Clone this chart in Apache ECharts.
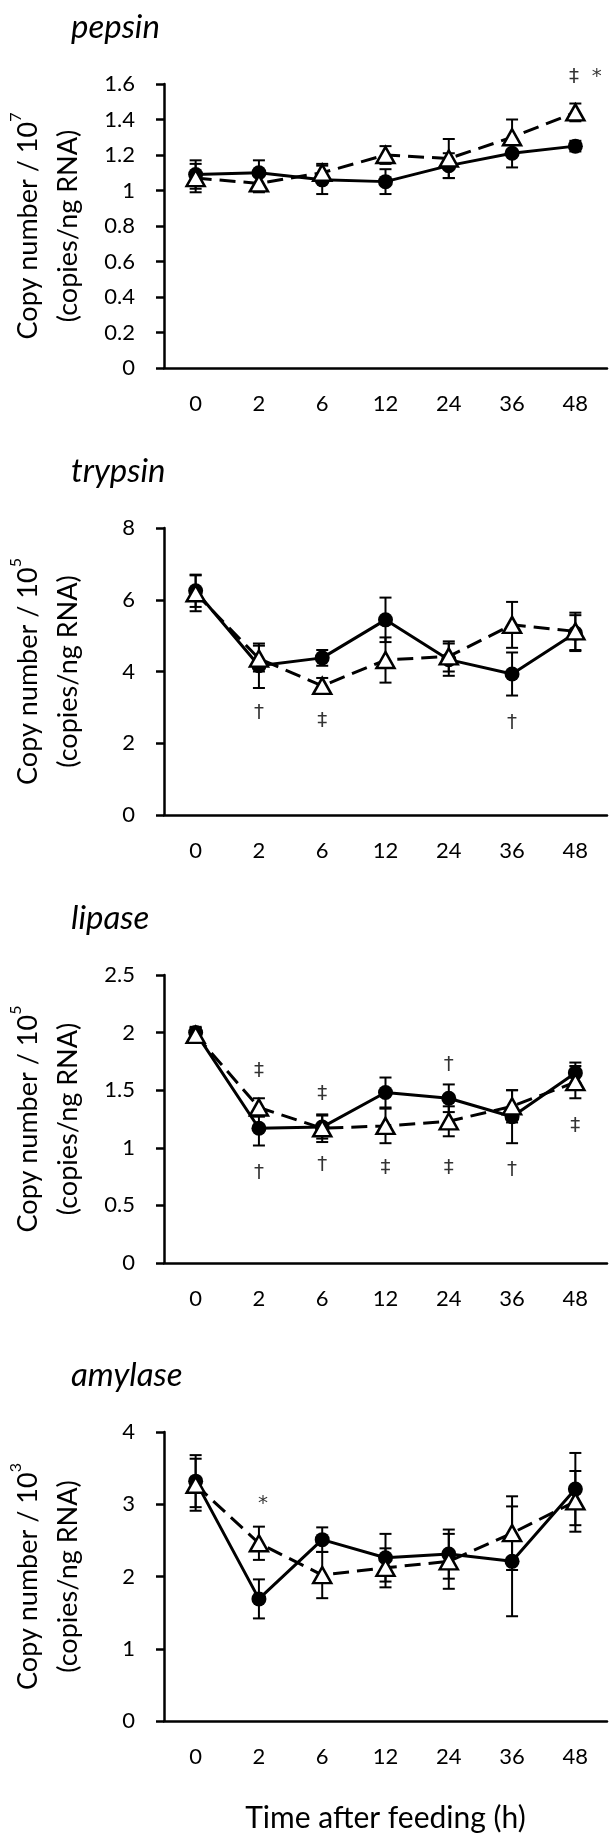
<!DOCTYPE html>
<html>
<head>
<meta charset="utf-8">
<script src="https://cdn.jsdelivr.net/npm/echarts@6/dist/echarts.min.js"></script>
<style>
  html, body { margin: 0; padding: 0; background: #fff; }
  #chart { width: 615px; height: 1841px; }
</style>
</head>
<body>
<div id="chart"></div>
<script>
// Sampling times (h after feeding)
const hours = ['0', '2', '6', '12', '24', '36', '48'];

// Mean copy number (filled circles, solid line) and SE
const pepsinA = [1.09, 1.10, 1.06, 1.05, 1.14, 1.21, 1.25];
const pepsinAErr = [0.08, 0.07, 0.08, 0.07, 0.07, 0.08, 0.03];
// Mean copy number (open triangles, dashed line) and SE
const pepsinB = [1.07, 1.04, 1.10, 1.20, 1.18, 1.30, 1.44];
const pepsinBErr = [0.08, 0.05, 0.05, 0.05, 0.11, 0.10, 0.05];

const trypsinA = [6.25, 4.16, 4.38, 5.44, 4.33, 3.93, 5.07];
const trypsinAErr = [0.45, 0.62, 0.22, 0.62, 0.45, 0.60, 0.50];
const trypsinB = [6.18, 4.36, 3.60, 4.32, 4.42, 5.30, 5.12];
const trypsinBErr = [0.50, 0.36, 0.22, 0.63, 0.42, 0.64, 0.52];

const lipaseA = [2.00, 1.17, 1.18, 1.48, 1.43, 1.27, 1.65];
const lipaseAErr = [0.05, 0.15, 0.10, 0.13, 0.12, 0.23, 0.09];
const lipaseB = [1.98, 1.35, 1.17, 1.19, 1.23, 1.36, 1.57];
const lipaseBErr = [0.06, 0.08, 0.12, 0.15, 0.13, 0.14, 0.14];

const amylaseA = [3.32, 1.69, 2.51, 2.26, 2.31, 2.21, 3.21];
const amylaseAErr = [0.36, 0.27, 0.17, 0.33, 0.34, 0.76, 0.50];
const amylaseB = [3.27, 2.46, 2.02, 2.12, 2.21, 2.60, 3.04];
const amylaseBErr = [0.36, 0.23, 0.32, 0.27, 0.38, 0.51, 0.42];

// Significance marks: [time index, y value, symbol]
const pepsinMarks = [[6, 1.64, '‡  *']];
const trypsinMarks = [[1, 2.85, '†'], [2, 2.62, '‡'], [5, 2.58, '†']];
const lipaseMarks = [
  [1, 1.67, '‡'], [2, 1.47, '‡'], [4, 1.72, '†'],
  [1, 0.78, '†'], [2, 0.85, '†'], [3, 0.83, '‡'], [4, 0.83, '‡'], [5, 0.81, '†'],
  [6, 1.19, '‡']
];
const amylaseMarks = [[1, 3.0, '*']];

// Panel titles, axis scales and y-axis exponents
const panelNames = ['pepsin', 'trypsin', 'lipase', 'amylase'];
const yMax = [1.6, 8, 2.5, 4];
const yStep = [0.2, 2, 0.5, 1];
const exponents = ['7', '5', '5', '3'];
const xTitle = 'Time after feeding (h)';

const panels = [
  { a: pepsinA, aErr: pepsinAErr, b: pepsinB, bErr: pepsinBErr, marks: pepsinMarks },
  { a: trypsinA, aErr: trypsinAErr, b: trypsinB, bErr: trypsinBErr, marks: trypsinMarks },
  { a: lipaseA, aErr: lipaseAErr, b: lipaseB, bErr: lipaseBErr, marks: lipaseMarks },
  { a: amylaseA, aErr: amylaseAErr, b: amylaseB, bErr: amylaseBErr, marks: amylaseMarks }
];

const FONT = 'Lato, "Open Sans", sans-serif';
const MARK_FONT = '"DejaVu Sans", sans-serif';
const gridTops = [84, 528, 975, 1432];
const gridHeights = [284, 287, 288, 289];

function errorBarItem(params, api) {
  const x = api.value(0), m = api.value(1), e = api.value(2);
  const hi = api.coord([x, m + e]);
  const lo = api.coord([x, m - e]);
  const w = 6;
  const st = { stroke: '#000', lineWidth: 2 };
  return {
    type: 'group',
    children: [
      { type: 'line', shape: { x1: hi[0], y1: hi[1], x2: lo[0], y2: lo[1] }, style: st },
      { type: 'line', shape: { x1: hi[0] - w, y1: hi[1], x2: hi[0] + w, y2: hi[1] }, style: st },
      { type: 'line', shape: { x1: lo[0] - w, y1: lo[1], x2: lo[0] + w, y2: lo[1] }, style: st }
    ]
  };
}

const grid = [], xAxis = [], yAxis = [], series = [], title = [];

panels.forEach((p, i) => {
  grid.push({ left: 159, right: 8, top: gridTops[i], height: gridHeights[i] });
  title.push({
    text: panelNames[i], left: 66, top: gridTops[i] - 78,
    textStyle: { fontFamily: FONT, fontStyle: 'italic', fontWeight: 'normal', fontSize: 33, color: '#000' }
  });
  const last = i === panels.length - 1;
  xAxis.push({
    type: 'category', gridIndex: i, data: hours, boundaryGap: true,
    axisLine: { lineStyle: { color: '#000', width: 2.5 } },
    axisTick: { alignWithLabel: true, length: 7, lineStyle: { color: '#000', width: 2.5 } },
    axisLabel: { color: '#000', fontFamily: FONT, fontSize: 22, margin: 25 },
    name: last ? xTitle : '', nameLocation: 'middle', nameGap: 82,
    nameTextStyle: { color: '#000', fontFamily: FONT, fontSize: 30 }
  });
  yAxis.push({
    type: 'value', gridIndex: i, min: 0, max: yMax[i], interval: yStep[i],
    splitLine: { show: false },
    axisLine: { show: true, lineStyle: { color: '#000', width: 2.5 } },
    axisTick: { show: true, length: 8, lineStyle: { color: '#000', width: 2.5 } },
    axisLabel: { color: '#000', fontFamily: FONT, fontSize: 22, margin: 29 },
    name: '{t|Copy number / 10}{s|' + exponents[i] + '}\n{t|(copies/ng RNA)}',
    nameLocation: 'middle', nameRotate: 90, nameGap: 76,
    nameTextStyle: {
      color: '#000', fontFamily: FONT, fontSize: 27, align: 'center',
      rich: {
        t: { fontFamily: FONT, fontSize: 27, lineHeight: 40, color: '#000' },
        s: { fontFamily: FONT, fontSize: 16, lineHeight: 40, color: '#000', verticalAlign: 'top', padding: [0, 0, 14, 0] }
      }
    }
  });
  series.push({
    type: 'custom', xAxisIndex: i, yAxisIndex: i, renderItem: errorBarItem, z: 2,
    data: p.a.map((v, k) => [k, v, p.aErr[k]])
  });
  series.push({
    type: 'line', xAxisIndex: i, yAxisIndex: i, data: p.a, z: 3,
    symbol: 'circle', symbolSize: 15,
    itemStyle: { color: '#000' },
    lineStyle: { color: '#000', width: 3 }
  });
  series.push({
    type: 'custom', xAxisIndex: i, yAxisIndex: i, renderItem: errorBarItem, z: 4,
    data: p.b.map((v, k) => [k, v, p.bErr[k]])
  });
  series.push({
    type: 'line', xAxisIndex: i, yAxisIndex: i, data: p.b, z: 5,
    symbol: 'triangle', symbolSize: [18, 16],
    itemStyle: { color: '#fff', borderColor: '#000', borderWidth: 2.5 },
    lineStyle: { color: '#000', width: 3, type: [16, 8] }
  });
  series.push({
    type: 'scatter', xAxisIndex: i, yAxisIndex: i, z: 6, clip: false,
    symbolSize: 1, itemStyle: { color: 'rgba(0,0,0,0)' },
    data: p.marks.map(m => ({ value: [m[0], m[1]], name: m[2] })),
    label: {
      show: true, position: 'inside', formatter: d => d.name,
      color: '#000', fontFamily: MARK_FONT, fontSize: 20,
      offset: i === 0 ? [10, 0] : (i === 3 ? [4, 0] : [0, 0])
    }
  });
});

const chart = echarts.init(document.getElementById('chart'), null, { renderer: 'canvas' });
chart.setOption({
  animation: false,
  backgroundColor: '#fff',
  title, grid, xAxis, yAxis, series
});
</script>
</body>
</html>
